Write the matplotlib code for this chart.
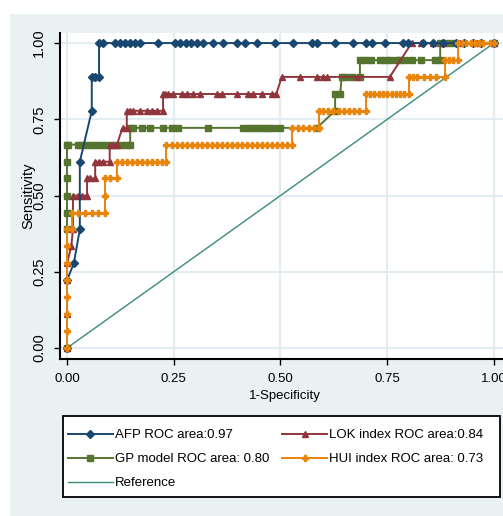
import matplotlib
matplotlib.use("Agg")
import matplotlib.pyplot as plt
from matplotlib.patches import Rectangle

plt.rcParams['font.family'] = ['Liberation Sans Narrow', 'Liberation Sans', 'DejaVu Sans']

# AFP
afp_fpr = [0, 0, 0.016, 0.03, 0.03, 0.058, 0.058, 0.066, 0.075, 0.075, 0.085, 0.112, 0.124,
           0.136, 0.148, 0.159, 0.171, 0.213, 0.253, 0.265, 0.278, 0.29, 0.304, 0.319, 0.342,
           0.366, 0.398, 0.417, 0.444, 0.487, 0.53, 0.573, 0.585, 0.628, 0.67, 0.70, 0.714,
           0.745, 0.787, 0.799, 0.834, 0.857, 0.88, 0.91, 0.93, 0.95, 0.97, 1.0]
afp_tpr = [0, 0.222, 0.278, 0.389, 0.611, 0.778, 0.889, 0.889, 0.889] + [1.0] * 39

# LOK index
lok_fpr = [0, 0, 0, 0, 0.01, 0.014, 0.014, 0.025, 0.035, 0.047, 0.047, 0.055, 0.066, 0.066,
           0.075, 0.085, 0.1, 0.1, 0.105, 0.117, 0.13, 0.14, 0.14, 0.148, 0.155, 0.171, 0.187,
           0.199, 0.211, 0.225, 0.225, 0.23, 0.237, 0.248, 0.269, 0.281, 0.295, 0.311, 0.351,
           0.363, 0.398, 0.424, 0.436, 0.457, 0.48, 0.49, 0.503, 0.546, 0.585, 0.6, 0.61,
           0.68, 0.756, 0.807, 0.83, 0.857, 0.88, 0.92, 0.96, 1.0]
lok_tpr = ([0, 0.111, 0.222, 0.278, 0.333, 0.389, 0.5, 0.5, 0.5, 0.5, 0.556, 0.556, 0.556,
            0.611, 0.611, 0.611, 0.611, 0.667, 0.667, 0.667, 0.722, 0.722]
           + [0.778] * 8 + [0.833] * 16 + [0.889] * 7 + [1.0] * 7)

# GP model
gp_fpr = [0, 0, 0, 0, 0, 0, 0, 0.002, 0.026, 0.033, 0.045, 0.056, 0.068, 0.08, 0.091, 0.103,
          0.115, 0.127, 0.138, 0.148, 0.148, 0.155, 0.176, 0.194, 0.225, 0.246, 0.26, 0.33,
          0.412, 0.424, 0.436, 0.447, 0.459, 0.471, 0.483, 0.499, 0.585, 0.628, 0.628, 0.64,
          0.643, 0.651, 0.667, 0.686, 0.686, 0.698, 0.713, 0.733, 0.745, 0.756, 0.772, 0.78,
          0.792, 0.807, 0.83, 0.862, 0.874, 0.874, 0.886, 0.9, 1.0]
gp_tpr = ([0, 0.389, 0.444, 0.5, 0.556, 0.611] + [0.667] * 14 + [0.722] * 17
          + [0.778, 0.833, 0.833] + [0.889] * 4 + [0.944] * 13 + [1.0] * 4)

# HUI index
hui_fpr = [0, 0, 0, 0, 0, 0, 0, 0, 0.011, 0.011, 0.026, 0.042, 0.058, 0.073, 0.089, 0.089,
           0.089, 0.1, 0.116, 0.116, 0.128, 0.14, 0.152, 0.163, 0.175, 0.187, 0.198, 0.21,
           0.222, 0.233, 0.233, 0.245, 0.257, 0.269, 0.28, 0.292, 0.304, 0.315, 0.327, 0.339,
           0.351, 0.362, 0.374, 0.386, 0.398, 0.409, 0.421, 0.433, 0.445, 0.456, 0.468, 0.48,
           0.492, 0.503, 0.515, 0.527, 0.527, 0.54, 0.553, 0.566, 0.579, 0.59, 0.59, 0.6,
           0.612, 0.624, 0.636, 0.648, 0.66, 0.672, 0.684, 0.70, 0.70, 0.71, 0.72, 0.73,
           0.74, 0.75, 0.76, 0.77, 0.78, 0.79, 0.8, 0.8, 0.81, 0.82, 0.835, 0.85, 0.865,
           0.885, 0.885, 0.895, 0.905, 0.915, 0.915, 0.925, 0.935, 0.945, 0.955, 0.965,
           0.975, 0.99, 1.0]
hui_tpr = ([0, 0.056, 0.111, 0.167, 0.222, 0.278, 0.333, 0.389, 0.389] + [0.444] * 6
           + [0.5, 0.556, 0.556, 0.556] + [0.611] * 11 + [0.667] * 26 + [0.722] * 6
           + [0.778] * 10 + [0.833] * 11 + [0.889] * 7 + [0.944] * 4 + [1.0] * 9)

labels = ["AFP ROC area:0.97", "LOK index ROC area:0.84",
          "GP model ROC area: 0.80", "HUI index ROC area: 0.73", "Reference"]
ticks = [0, 0.25, 0.5, 0.75, 1.0]
tick_labels = ["0.00", "0.25", "0.50", "0.75", "1.00"]

W, H = 503, 516
fig = plt.figure(figsize=(W / 100, H / 100), dpi=100)
fig.patch.set_facecolor("white")
fig.add_artist(Rectangle((10 / W, 0), 1, (H - 14) / H, transform=fig.transFigure,
                         facecolor="#eaf1f3", edgecolor="none", zorder=0))

ax = fig.add_axes([60 / W, (H - 359) / H, 450 / W, 326 / H])
ax.set_facecolor("white")
ax.grid(True, color="#e3ecf0", lw=1.5)
ax.set_axisbelow(True)

l_afp, = ax.plot(afp_fpr, afp_tpr, color="#1a476f", marker="D", ms=4.5, lw=1.4, zorder=5)
l_lok, = ax.plot(lok_fpr, lok_tpr, color="#90353b", marker="^", ms=5, lw=1.4, zorder=4)
l_gp, = ax.plot(gp_fpr, gp_tpr, color="#55752f", marker="s", ms=4.5, lw=1.4, zorder=3)
l_hui, = ax.plot(hui_fpr, hui_tpr, color="#e8850c", marker="P", ms=5, lw=1.4, zorder=6)
l_ref, = ax.plot([0, 1], [0, 1], color="#3a8a7e", lw=1.0, zorder=2)

ax.set_xlim(-0.0164, 1.0375)
ax.set_ylim(-0.036, 1.033)
ax.set_xticks(ticks)
ax.set_xticklabels(tick_labels, fontsize=9.5)
ax.set_yticks(ticks)
ax.set_yticklabels(tick_labels, fontsize=10.5, rotation=90, va="center")
ax.tick_params(direction="out", length=4, width=1)
ax.tick_params(axis="x", pad=6)
ax.tick_params(axis="y", pad=6)
for s in ["top", "right"]:
    ax.spines[s].set_visible(False)
for s in ["left", "bottom"]:
    ax.spines[s].set_linewidth(1.5)

ax.set_xlabel("1-Specificity", fontsize=9.5, labelpad=4)
ax.set_ylabel("Sensitivity", fontsize=10.5)
ax.yaxis.set_label_coords(-0.055, 0.5)

# legend box drawn by hand so the padding matches
fig.add_artist(Rectangle((63 / W, (H - 497) / H), 437 / W, 81 / H, transform=fig.transFigure,
                         facecolor="white", edgecolor="black", lw=1.3, zorder=1))
leg = fig.legend([l_afp, l_gp, l_ref, l_lok, l_hui],
                 [labels[0], labels[2], labels[4], labels[1], labels[3]],
                 ncol=2, loc="upper left", bbox_to_anchor=(68 / W, (H - 429) / H),
                 fontsize=9.5, frameon=False, handlelength=3.4, handletextpad=0.15,
                 labelspacing=0.9, borderpad=0, borderaxespad=0, columnspacing=1.0)
leg.set_zorder(2)
for h in leg.legend_handles:
    h.set_markersize(4)

fig.savefig("out.png", dpi=100)
